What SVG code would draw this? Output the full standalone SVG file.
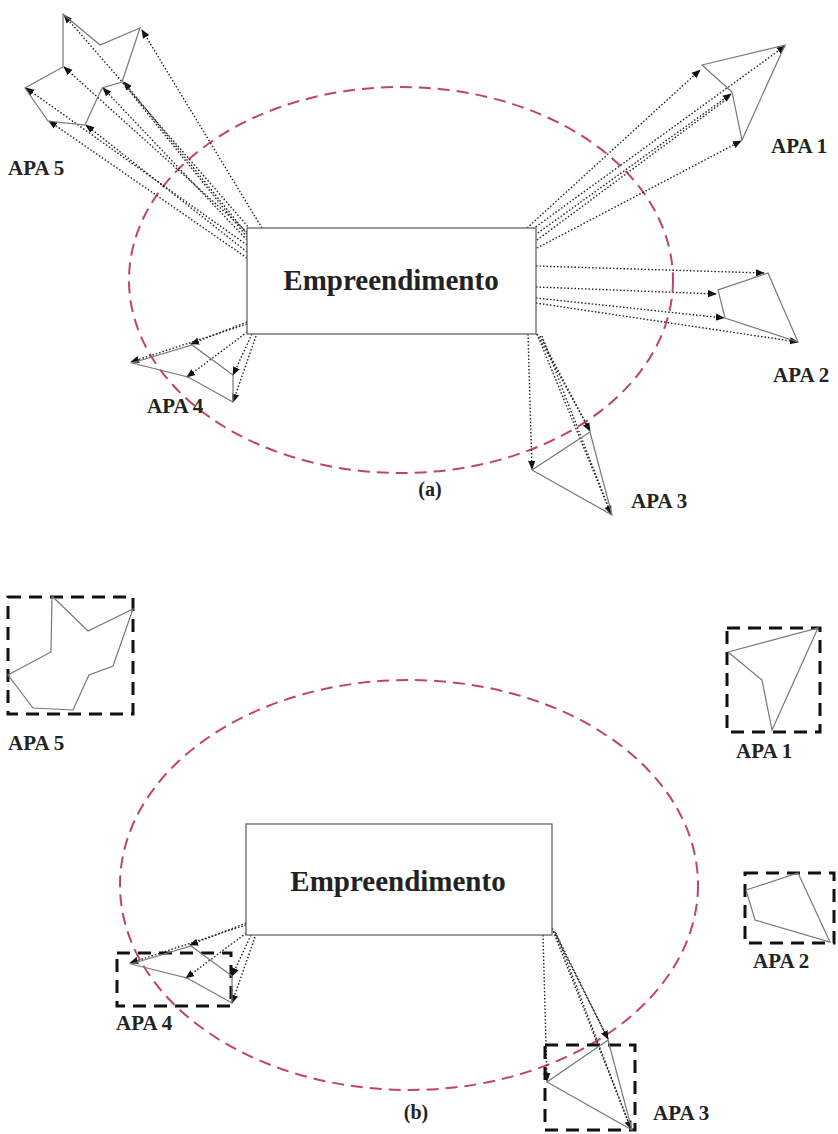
<svg xmlns="http://www.w3.org/2000/svg" width="838" height="1134" viewBox="0 0 838 1134">
<style>
.ell{fill:none;stroke:#c2416e;stroke-width:2;stroke-dasharray:12 7}
.box{fill:#fff;stroke:#666;stroke-width:1.3}
.title{font-family:"Liberation Serif",serif;font-weight:bold;font-size:29px;fill:#222}
.lbl{font-family:"Liberation Serif",serif;font-weight:bold;font-size:21px;fill:#222}
.cap{font-family:"Liberation Serif",serif;font-weight:bold;font-size:20px;fill:#222}
.poly{fill:none;stroke:#777;stroke-width:1.2}
.dot{fill:none;stroke:#222;stroke-width:1.4;stroke-dasharray:1.5 2}
.dash{fill:none;stroke:#111;stroke-width:3;stroke-dasharray:13 8}
</style>
<defs>
<marker id="ah" viewBox="0 0 10 10" refX="9" refY="5" markerWidth="9" markerHeight="9" markerUnits="userSpaceOnUse" orient="auto">
<path d="M0,1 L10,5 L0,9 z" fill="#111"/>
</marker>
</defs>

<!-- (a) -->
<ellipse class="ell" cx="401" cy="280" rx="272" ry="193"/>

<g id="connectors-a">
<!-- APA5 -->
<line class="dot" x1="262" y1="228" x2="142" y2="30" marker-end="url(#ah)"/>
<line class="dot" x1="250" y1="229" x2="64" y2="15" marker-end="url(#ah)"/>
<line class="dot" x1="247" y1="232" x2="64" y2="67" marker-end="url(#ah)"/>
<line class="dot" x1="247" y1="234" x2="124" y2="82" marker-end="url(#ah)"/>
<line class="dot" x1="247" y1="237" x2="123" y2="83"/>
<line class="dot" x1="247" y1="240" x2="103" y2="88" marker-end="url(#ah)"/>
<line class="dot" x1="247" y1="245" x2="26" y2="88" marker-end="url(#ah)"/>
<line class="dot" x1="247" y1="252" x2="86" y2="125" marker-end="url(#ah)"/>
<line class="dot" x1="247" y1="258" x2="49" y2="121" marker-end="url(#ah)"/>
<!-- APA1 -->
<line class="dot" x1="527" y1="228" x2="700" y2="70" marker-end="url(#ah)"/>
<line class="dot" x1="530" y1="231" x2="785" y2="46" marker-end="url(#ah)"/>
<line class="dot" x1="535" y1="235" x2="731" y2="94" marker-end="url(#ah)"/>
<line class="dot" x1="537" y1="240" x2="731" y2="96"/>
<line class="dot" x1="537" y1="248" x2="741" y2="141" marker-end="url(#ah)"/>
<!-- APA2 -->
<line class="dot" x1="536" y1="266" x2="764" y2="273" marker-end="url(#ah)"/>
<line class="dot" x1="536" y1="287" x2="716" y2="294" marker-end="url(#ah)"/>
<line class="dot" x1="536" y1="298" x2="724" y2="318" marker-end="url(#ah)"/>
<line class="dot" x1="536" y1="303" x2="798" y2="342" marker-end="url(#ah)"/>
<!-- APA3 -->
<line class="dot" x1="528" y1="334" x2="532" y2="469" marker-end="url(#ah)"/>
<line class="dot" x1="537" y1="334" x2="590" y2="431" marker-end="url(#ah)"/>
<line class="dot" x1="540" y1="336" x2="590" y2="431"/>
<line class="dot" x1="537" y1="334" x2="611" y2="514" marker-end="url(#ah)"/>
<line class="dot" x1="542" y1="336" x2="611" y2="514"/>
<!-- APA4 -->
<line class="dot" x1="247" y1="322" x2="191" y2="344" marker-end="url(#ah)"/>
<line class="dot" x1="247" y1="324" x2="131" y2="362" marker-end="url(#ah)"/>
<line class="dot" x1="250" y1="330" x2="187" y2="377" marker-end="url(#ah)"/>
<line class="dot" x1="252" y1="334" x2="233" y2="375" marker-end="url(#ah)"/>
<line class="dot" x1="256" y1="336" x2="233" y2="402" marker-end="url(#ah)"/>
</g>

<g id="box-a">
<rect class="box" x="247" y="228" width="289" height="106"/>
<text class="title" x="391" y="290" text-anchor="middle">Empreendimento</text>
</g>

<g id="apa5-a">
<polygon class="poly" points="63,14 100,45 140,28 122,82 102,88 85,125 48,121 25,88 63,67"/>
<text class="lbl" x="8" y="175">APA 5</text>
</g>
<g id="apa1-a">
<polygon class="poly" points="702,65 785,45 742,140 732,92"/>
<text class="lbl" x="771" y="153">APA 1</text>
</g>
<g id="apa2-a">
<polygon class="poly" points="768,273 798,342 725,318 718,290"/>
<text class="lbl" x="773" y="382">APA 2</text>
</g>
<g id="apa3-a">
<polygon class="poly" points="590,432 532,470 612,515"/>
<text class="lbl" x="631" y="508">APA 3</text>
</g>
<g id="apa4-a">
<polygon class="poly" points="132,363 192,345 233,375 233,402 188,377"/>
<text class="lbl" x="147" y="413">APA 4</text>
</g>
<text class="cap" x="430" y="496" text-anchor="middle">(a)</text>

<!-- (b) -->
<ellipse class="ell" cx="409" cy="885" rx="289" ry="205"/>

<g id="connectors-b">
<!-- APA4 -->
<line class="dot" x1="246" y1="923" x2="190" y2="945" marker-end="url(#ah)"/>
<line class="dot" x1="246" y1="925" x2="130" y2="963" marker-end="url(#ah)"/>
<line class="dot" x1="249" y1="931" x2="186" y2="978" marker-end="url(#ah)"/>
<line class="dot" x1="251" y1="935" x2="232" y2="976" marker-end="url(#ah)"/>
<line class="dot" x1="255" y1="937" x2="232" y2="1003" marker-end="url(#ah)"/>
<!-- APA3 -->
<line class="dot" x1="543" y1="935" x2="547" y2="1081" marker-end="url(#ah)"/>
<line class="dot" x1="552" y1="928" x2="608" y2="1039" marker-end="url(#ah)"/>
<line class="dot" x1="555" y1="932" x2="608" y2="1039"/>
<line class="dot" x1="552" y1="928" x2="631" y2="1129" marker-end="url(#ah)"/>
<line class="dot" x1="556" y1="933" x2="631" y2="1129"/>
</g>

<g id="box-b">
<rect class="box" x="246" y="824" width="306" height="111"/>
<text class="title" x="398" y="891" text-anchor="middle">Empreendimento</text>
</g>

<g id="apa5-b">
<rect class="dash" x="8" y="597" width="125" height="117"/>
<polygon class="poly" points="52,596 88,631 133,609 113,666 89,675 73,710 33,708 8,675 51,652"/>
<text class="lbl" x="8" y="750">APA 5</text>
</g>
<g id="apa1-b">
<rect class="dash" x="727" y="628" width="93" height="104"/>
<polygon class="poly" points="728,652 818,628 772,730 762,680"/>
<text class="lbl" x="736" y="758">APA 1</text>
</g>
<g id="apa2-b">
<rect class="dash" x="745" y="873" width="89" height="70"/>
<polygon class="poly" points="746,890 798,873 830,942 755,920"/>
<text class="lbl" x="753" y="968">APA 2</text>
</g>
<g id="apa4-b">
<rect class="dash" x="117" y="953" width="114" height="53"/>
<polygon class="poly" points="131,964 191,946 232,976 232,1003 187,978"/>
<text class="lbl" x="116" y="1030">APA 4</text>
</g>
<g id="apa3-b">
<rect class="dash" x="545" y="1045" width="90" height="85"/>
<polygon class="poly" points="608,1040 547,1082 632,1130"/>
<text class="lbl" x="653" y="1120">APA 3</text>
</g>
<text class="cap" x="416" y="1119" text-anchor="middle">(b)</text>
</svg>
